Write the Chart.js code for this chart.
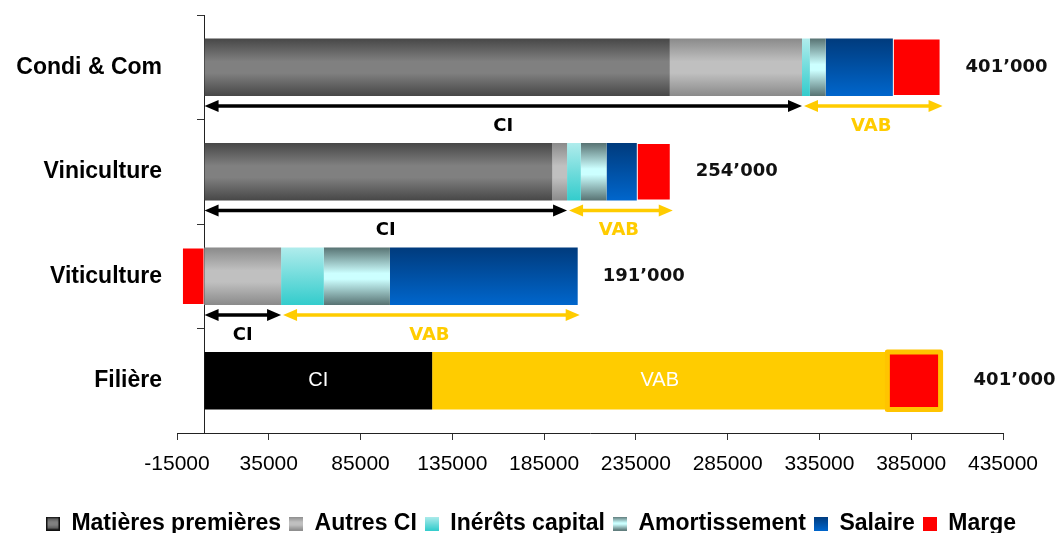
<!DOCTYPE html>
<html>
<head>
<meta charset="utf-8">
<script src="https://cdn.jsdelivr.net/npm/chart.js@4.4.1/dist/chart.umd.min.js"></script>
<style>
  html, body { margin: 0; padding: 0; background: #fff; }
  #wrap { width: 1062px; height: 533px; }
</style>
</head>
<body>
<div id="wrap"><canvas id="chart"></canvas></div>
<script>
// Données : coûts par maillon de la filière (CHF)
const categories = ['Condi & Com', 'Viniculture', 'Viticulture', 'Filière'];
const matieresPremieres = [253500, 189500, 0, null];
const autresCI = [72000, 8000, 41700, null];
const interetsCapital = [4300, 7500, 23300, null];
const amortissement = [8600, 14000, 36000, null];
const salaire = [36600, 16500, 102300, null];
const marge = [26000, 18500, -12300, 29000];
const filiereCI = [null, null, null, 124000];
const filiereVAB = [null, null, null, 248000];
const xTicks = [-15000, 35000, 85000, 135000, 185000, 235000, 285000, 335000, 385000, 435000];

const GOLD = '#FFCC00';
const CAT_PCT = 0.55;

// dégradés verticaux (haut -> bas)
const STOPS = {
  mp:    [[0, '#474747'], [0.4, '#808080'], [0.6, '#808080'], [1, '#474747']],
  autres:[[0, '#8a8a8a'], [0.4, '#c0c0c0'], [0.6, '#c0c0c0'], [1, '#8a8a8a']],
  inter: [[0, '#b0ecec'], [1, '#33cccc']],
  amort: [[0, '#587373'], [0.45, '#ccffff'], [0.55, '#ccffff'], [1, '#587373']],
  sal:   [[0, '#003b7d'], [1, '#0066cc']],
  marge: [[0, '#ff0000'], [1, '#ff0000']],
};

function bandGradient(stops) {
  return (ctx) => {
    const chart = ctx.chart;
    const ys = chart.scales.y;
    if (ctx.type !== 'data' || !ys || !chart.chartArea) return stops[stops.length - 1][1];
    const c = ys.getPixelForValue(ctx.dataIndex);
    const half = ys.height / categories.length * CAT_PCT / 2;
    const g = chart.ctx.createLinearGradient(0, c - half, 0, c + half);
    stops.forEach(s => g.addColorStop(s[0], s[1]));
    return g;
  };
}

function swatch(stops, border) {
  const c = document.createElement('canvas');
  c.width = 14; c.height = 14;
  const x = c.getContext('2d');
  const g = x.createLinearGradient(0, 0, 0, 14);
  stops.forEach(s => g.addColorStop(s[0], s[1]));
  x.fillStyle = g;
  x.fillRect(0, 0, 14, 14);
  if (border) { x.strokeStyle = border; x.lineWidth = 1.5; x.strokeRect(0.75, 0.75, 12.5, 12.5); }
  return c;
}

const datasets = [
  { label: 'Matières premières', data: matieresPremieres, backgroundColor: bandGradient(STOPS.mp), swatch: swatch(STOPS.mp, '#111') },
  { label: 'Autres CI', data: autresCI, backgroundColor: bandGradient(STOPS.autres), swatch: swatch(STOPS.autres) },
  { label: 'Inérêts capital', data: interetsCapital, backgroundColor: bandGradient(STOPS.inter), swatch: swatch(STOPS.inter) },
  { label: 'Amortissement', data: amortissement, backgroundColor: bandGradient(STOPS.amort), swatch: swatch(STOPS.amort) },
  { label: 'Salaire', data: salaire, backgroundColor: bandGradient(STOPS.sal), swatch: swatch(STOPS.sal) },
  { label: 'CI', data: filiereCI, backgroundColor: '#000000', noLegend: true },
  { label: 'VAB', data: filiereVAB, backgroundColor: GOLD, noLegend: true },
  { label: 'Marge', data: marge, backgroundColor: '#ff0000', borderColor: '#ffffff', borderWidth: 1, borderSkipped: false, swatch: swatch(STOPS.marge) },
];
datasets.forEach(d => { d.xAxisID = 'x'; d.yAxisID = 'y'; });
const MARGE = datasets.length - 1;

function fmt(v) {
  return Math.round(v).toString().replace(/\B(?=(\d{3})+(?!\d))/g, '\u2019');
}

function drawArrow(ctx, x1, x2, y, color) {
  const head = 14, hw = 6;
  ctx.save();
  ctx.strokeStyle = color;
  ctx.fillStyle = color;
  ctx.lineWidth = 3.5;
  ctx.beginPath();
  ctx.moveTo(x1 + head - 2, y);
  ctx.lineTo(x2 - head + 2, y);
  ctx.stroke();
  ctx.beginPath();
  ctx.moveTo(x1, y); ctx.lineTo(x1 + head, y - hw); ctx.lineTo(x1 + head, y + hw); ctx.closePath();
  ctx.fill();
  ctx.beginPath();
  ctx.moveTo(x2, y); ctx.lineTo(x2 - head, y - hw); ctx.lineTo(x2 - head, y + hw); ctx.closePath();
  ctx.fill();
  ctx.restore();
}

// flèches CI / VAB, totaux et cadre de la marge de la filière
const annotations = {
  id: 'annotations',
  afterDatasetsDraw(chart) {
    const ctx = chart.ctx;
    const xs = chart.scales.x;
    const margeMeta = chart.getDatasetMeta(MARGE);

    categories.forEach((cat, i) => {
      const el = margeMeta.data[i];
      const yc = el.y, h = el.height;
      const bottom = yc + h / 2;
      let pos = 0, total = 0;
      chart.data.datasets.forEach(ds => {
        const v = ds.data[i] || 0;
        total += v;
        if (v > 0) pos += v;
      });

      if (i < 3) {
        const ciEnd = (matieresPremieres[i] || 0) + (autresCI[i] || 0);
        const x0 = xs.getPixelForValue(0);
        const xc = xs.getPixelForValue(ciEnd);
        const xe = xs.getPixelForValue(pos);
        const ay = bottom + 10;
        drawArrow(ctx, x0, xc, ay, '#000');
        drawArrow(ctx, xc + 2, xe + 2, ay, GOLD);
        ctx.save();
        ctx.font = 'bold 18px "DejaVu Sans"';
        ctx.textAlign = 'center';
        ctx.textBaseline = 'middle';
        ctx.fillStyle = '#000';
        ctx.fillText('CI', (x0 + xc) / 2, bottom + 30);
        ctx.fillStyle = GOLD;
        ctx.fillText('VAB', (xc + xe) / 2, bottom + 30);
        ctx.restore();
      }

      ctx.save();
      ctx.font = 'bold 18px "DejaVu Sans"';
      ctx.textAlign = 'left';
      ctx.textBaseline = 'middle';
      ctx.fillStyle = '#111';
      ctx.fillText(fmt(total), xs.getPixelForValue(pos) + (i === 3 ? 33 : 25), yc);
      ctx.restore();
    });

    // libellés dans la barre Filière
    const last = categories.length - 1;
    ctx.save();
    ctx.font = '20px "Liberation Sans"';
    ctx.textAlign = 'center';
    ctx.textBaseline = 'middle';
    ctx.fillStyle = '#fff';
    [5, 6].forEach(d => {
      const el = chart.getDatasetMeta(d).data[last];
      ctx.fillText(chart.data.datasets[d].label, (el.x + el.base) / 2, el.y);
    });
    const m = margeMeta.data[last];
    ctx.strokeStyle = '#FFC400';
    ctx.lineWidth = 5;
    ctx.lineJoin = 'round';
    ctx.strokeRect(Math.min(m.x, m.base), m.y - m.height / 2, Math.abs(m.x - m.base), m.height);
    ctx.restore();
  }
};

// largeur fixe des colonnes latérales, sans marge verticale ajoutée
function fixWidth(w) {
  return (s) => { s.width = w; s.paddingTop = 0; s.paddingBottom = 0; };
}

const defaultLabels = Chart.defaults.plugins.legend.labels.generateLabels;

new Chart(document.getElementById('chart'), {
  type: 'bar',
  data: { labels: categories, datasets },
  options: {
    indexAxis: 'y',
    responsive: true,
    maintainAspectRatio: false,
    animation: false,
    layout: { autoPadding: false, padding: { left: 0, right: 0, top: 15, bottom: -12 } },
    datasets: { bar: { categoryPercentage: CAT_PCT, barPercentage: 1 } },
    scales: {
      y: {
        axis: 'y',
        stacked: true,
        position: { x: 0 },
        offset: true,
        grid: { drawOnChartArea: false, tickLength: 7, color: '#333', offset: true },
        border: { color: '#222', width: 1 },
        ticks: { display: false },
      },
      x: {
        axis: 'x',
        stacked: true,
        min: xTicks[0],
        max: xTicks[xTicks.length - 1],
        afterBuildTicks: (s) => { s.ticks = xTicks.map(v => ({ value: v })); },
        afterFit: (s) => { s.height = 71; },
        grid: { drawOnChartArea: false, tickLength: 7, color: '#333' },
        border: { color: '#222', width: 1 },
        ticks: {
          color: '#000', padding: 12, maxRotation: 0, autoSkip: false,
          font: { family: 'Liberation Sans', size: 21 },
          callback: v => String(v),
        },
      },
      // libellés des catégories, à gauche
      yl: {
        axis: 'y',
        type: 'category',
        position: 'left',
        offset: true,
        afterFit: fixWidth(177),
        grid: { display: false },
        border: { display: false },
        ticks: {
          color: '#000', padding: 7,
          font: { family: 'Liberation Sans', size: 23, weight: 'bold' },
        },
      },
      // marge de droite pour les totaux
      yr: {
        axis: 'y',
        type: 'category',
        position: 'right',
        afterFit: fixWidth(59),
        grid: { display: false },
        border: { display: false },
        ticks: { display: false },
      },
    },
    plugins: {
      tooltip: { enabled: false },
      legend: {
        position: 'bottom',
        labels: {
          color: '#000',
          font: { family: 'Liberation Sans', size: 23, weight: 'bold' },
          usePointStyle: true,
          boxWidth: 14,
          boxHeight: 14,
          padding: 8,
          generateLabels(chart) {
            return defaultLabels(chart)
              .filter(l => !chart.data.datasets[l.datasetIndex].noLegend)
              .map(l => Object.assign(l, { pointStyle: chart.data.datasets[l.datasetIndex].swatch, lineWidth: 0 }));
          },
        },
      },
    },
  },
  plugins: [annotations],
});
</script>
</body>
</html>
